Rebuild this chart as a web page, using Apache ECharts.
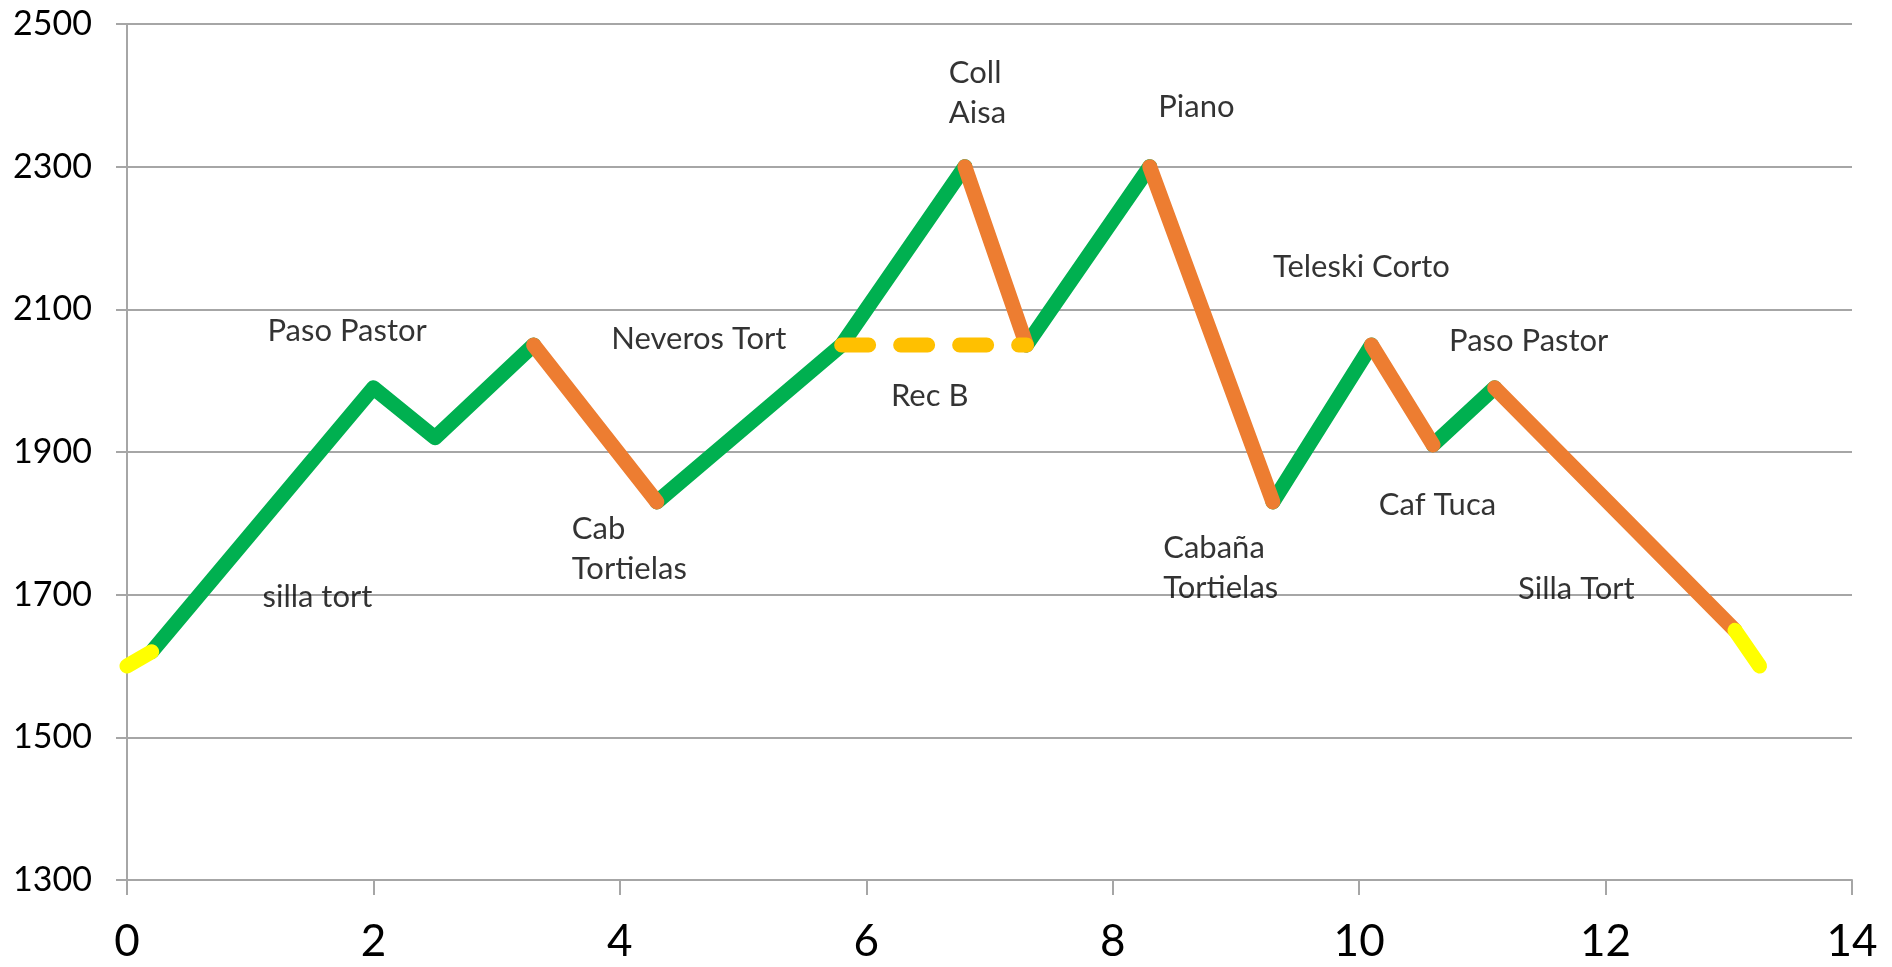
<!DOCTYPE html>
<html>
<head>
<meta charset="utf-8">
<script src="https://cdn.jsdelivr.net/npm/echarts@6/dist/echarts.min.js"></script>
<style>
  html, body { margin: 0; padding: 0; background: #fff; }
  #chart { width: 1892px; height: 967px; }
</style>
</head>
<body>
<div id="chart"></div>
<script>
// Route profile: distance (km) and altitude (m)
const routeX = [0, 0.2, 2.0, 2.5, 3.3, 4.3, 5.8, 6.8, 7.3, 8.3, 9.3, 10.1, 10.6, 11.1, 13.05, 13.25];
const routeY = [1600, 1620, 1990, 1920, 2050, 1830, 2050, 2300, 2050, 2300, 1830, 2050, 1910, 1990, 1650, 1600];
// Kind of each segment between consecutive route points
const segmentKind = ['start', 'up', 'up', 'up', 'down', 'up', 'up', 'down', 'up', 'down', 'up', 'down', 'up', 'down', 'start'];
// Alternative dashed route (Rec B)
const altX = [5.8, 7.3];
const altY = [2050, 2050];
// Place names (left edge x, vertical centre y, in data units)
const placeNames = ['Paso Pastor', 'silla tort', 'Cab\nTortielas', 'Neveros Tort', 'Coll\nAisa', 'Piano', 'Rec B', 'Teleski Corto', 'Paso Pastor', 'Cabaña\nTortielas', 'Caf Tuca', 'Silla Tort'];
const placeX = [1.14, 1.10, 3.61, 3.93, 6.67, 8.37, 6.20, 9.30, 10.73, 8.41, 10.16, 11.29];
const placeY = [2069, 1697, 1764, 2058, 2403, 2384, 1978, 2160, 2055, 1738, 1826, 1708];
// Axis ticks
const xTicks = [0, 2, 4, 6, 8, 10, 12, 14];
const yTicks = [1300, 1500, 1700, 1900, 2100, 2300, 2500];

const kindColor = { start: '#FFFF00', up: '#00B050', down: '#ED7D31' };
const FONT = 'Lato';

// group consecutive segments of the same kind into line series
const series = [];
let i = 0;
while (i < segmentKind.length) {
  let j = i;
  while (j + 1 < segmentKind.length && segmentKind[j + 1] === segmentKind[i]) j++;
  const pts = [];
  for (let k = i; k <= j + 1; k++) pts.push([routeX[k], routeY[k]]);
  series.push({
    type: 'line',
    data: pts,
    symbol: 'none',
    silent: true,
    z: segmentKind[i] === 'start' ? 4 : (segmentKind[i] === 'down' ? 3 : 2),
    lineStyle: { color: kindColor[segmentKind[i]], width: 15, cap: 'round', join: 'round' }
  });
  i = j + 1;
}
series.push({
  type: 'line',
  data: altX.map((x, k) => [x, altY[k]]),
  symbol: 'none',
  silent: true,
  z: 5,
  lineStyle: { color: '#FFC000', width: 15, type: [27, 32], cap: 'round' }
});
series.push({
  type: 'scatter',
  data: placeNames.map((n, k) => ({ value: [placeX[k], placeY[k]], name: n })),
  symbolSize: 0,
  silent: true,
  z: 6,
  label: {
    show: true,
    position: 'inside',
    formatter: p => p.name,
    align: 'left',
    verticalAlign: 'middle',
    fontFamily: FONT,
    fontSize: 31,
    lineHeight: 40,
    color: '#000'
  }
});

const chart = echarts.init(document.getElementById('chart'));
chart.setOption({
  animation: false,
  backgroundColor: '#fff',
  grid: { left: 127, right: 40, top: 24, bottom: 87, containLabel: false },
  xAxis: {
    type: 'value',
    min: xTicks[0], max: xTicks[xTicks.length - 1], interval: 2,
    axisLine: { show: true, lineStyle: { color: '#A6A6A6', width: 2 } },
    axisTick: { show: true, length: 15, lineStyle: { color: '#A6A6A6', width: 2 } },
    splitLine: { show: false },
    axisLabel: { fontFamily: FONT, fontSize: 44, color: '#000', margin: 40, formatter: v => String(v) }
  },
  yAxis: {
    type: 'value',
    min: yTicks[0], max: yTicks[yTicks.length - 1], interval: 200,
    axisLine: { show: true, lineStyle: { color: '#A6A6A6', width: 2 } },
    axisTick: { show: true, length: 11, lineStyle: { color: '#A6A6A6', width: 2 } },
    splitLine: { show: true, lineStyle: { color: '#A6A6A6', width: 2 } },
    axisLabel: { fontFamily: FONT, fontSize: 34, color: '#000', margin: 35, formatter: v => String(v) }
  },
  series: series
});
</script>
</body>
</html>
